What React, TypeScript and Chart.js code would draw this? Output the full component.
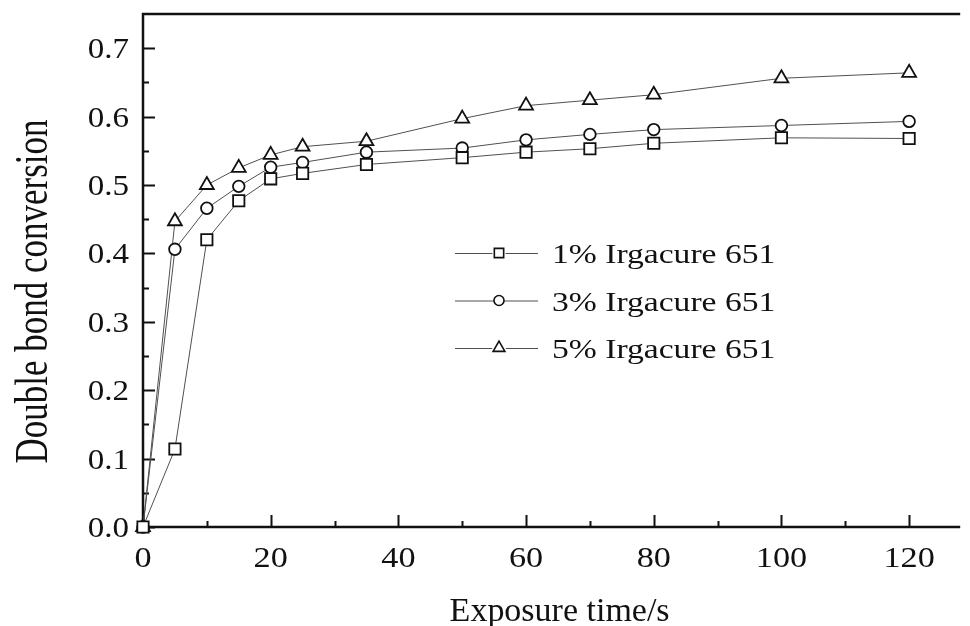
import React, { useEffect, useRef } from 'react';
import { Chart, registerables } from 'chart.js';
import { drawPoint } from 'chart.js/helpers';

Chart.register(...registerables);

// Exposure time (s) and double bond conversion for each photoinitiator level
const exposureTimes = [0, 5, 10, 15, 20, 25, 35, 50, 60, 70, 80, 100, 120];
const conversion1 = [0, 0.114, 0.42, 0.477, 0.509, 0.517, 0.53, 0.54, 0.548, 0.553, 0.561, 0.569, 0.568];
const conversion3 = [0, 0.406, 0.466, 0.498, 0.526, 0.533, 0.548, 0.554, 0.566, 0.574, 0.581, 0.587, 0.593];
const conversion5 = [0, 0.447, 0.5, 0.525, 0.544, 0.556, 0.564, 0.597, 0.616, 0.624, 0.632, 0.656, 0.664];

const seriesLabels = ['1% Irgacure 651', '3% Irgacure 651', '5% Irgacure 651'];
const seriesMarkers = ['rect', 'circle', 'triangle'] as const;

const xTickValues = [0, 20, 40, 60, 80, 100, 120];
const yTickValues = [0, 0.1, 0.2, 0.3, 0.4, 0.5, 0.6, 0.7];
const xTitle = 'Exposure time/s';
const yTitle = 'Double bond conversion';

const INK = '#111111';
const LINE = '#505050';
const SERIF = '"Liberation Serif", "Times New Roman", serif';

const markerRadius: Record<string, number> = { rect: 8, circle: 5.8, triangle: 8 };
const legendRadius: Record<string, number> = { rect: 6.6, circle: 5, triangle: 6.8 };

// text drawn with a horizontal stretch factor
function wideText(
  ctx: CanvasRenderingContext2D,
  text: string,
  x: number,
  y: number,
  sx: number,
  align: CanvasTextAlign,
) {
  ctx.save();
  ctx.translate(x, y);
  ctx.scale(sx, 1);
  ctx.textAlign = align;
  ctx.textBaseline = 'alphabetic';
  ctx.fillText(text, 0, 0);
  ctx.restore();
}

const midpoints = (vals: number[], step: number, max: number) => {
  const out: number[] = [];
  vals.forEach((v) => {
    const m = v + step / 2;
    if (m < max - 1e-9) out.push(m);
  });
  return out;
};

const framePlugin = {
  id: 'frame',
  beforeDatasetsDraw(chart: any) {
    const { ctx, chartArea: a, scales } = chart;
    const xs = scales.x;
    const ys = scales.y;
    ctx.save();
    ctx.strokeStyle = INK;
    ctx.lineCap = 'butt';
    ctx.lineWidth = 2.5;
    ctx.beginPath();
    ctx.moveTo(a.left, a.top);
    ctx.lineTo(a.right, a.top);
    ctx.moveTo(a.left, a.top - 1.25);
    ctx.lineTo(a.left, a.bottom + 1.25);
    ctx.moveTo(a.left - 1.25, a.bottom);
    ctx.lineTo(a.right, a.bottom);
    ctx.stroke();

    // inward ticks
    ctx.lineWidth = 2;
    ctx.beginPath();
    xTickValues.forEach((v) => {
      const px = Math.round(xs.getPixelForValue(v)) + 0.5;
      ctx.moveTo(px, a.bottom);
      ctx.lineTo(px, a.bottom - 12);
    });
    midpoints(xTickValues, 20, xs.max).forEach((v) => {
      const px = Math.round(xs.getPixelForValue(v)) + 0.5;
      ctx.moveTo(px, a.bottom);
      ctx.lineTo(px, a.bottom - 6);
    });
    yTickValues.forEach((v) => {
      const py = Math.round(ys.getPixelForValue(v)) + 0.5;
      ctx.moveTo(a.left, py);
      ctx.lineTo(a.left + 12, py);
    });
    midpoints(yTickValues, 0.1, ys.max).forEach((v) => {
      const py = Math.round(ys.getPixelForValue(v)) + 0.5;
      ctx.moveTo(a.left, py);
      ctx.lineTo(a.left + 6, py);
    });
    ctx.stroke();
    ctx.restore();
  },
  afterDraw(chart: any) {
    const { ctx, chartArea: a, scales } = chart;
    const xs = scales.x;
    const ys = scales.y;
    ctx.save();
    ctx.fillStyle = INK;

    // tick labels
    ctx.font = `29px ${SERIF}`;
    xTickValues.forEach((v) => {
      wideText(ctx, String(v), xs.getPixelForValue(v), a.bottom + 40, 1.18, 'center');
    });
    yTickValues.forEach((v) => {
      wideText(ctx, v.toFixed(1), a.left - 14, ys.getPixelForValue(v) + 10, 1.14, 'right');
    });

    // axis titles
    ctx.font = `33px ${SERIF}`;
    wideText(ctx, xTitle, (a.left + a.right) / 2 + 8, a.bottom + 94, 1.03, 'center');

    ctx.font = `35px ${SERIF}`;
    ctx.save();
    ctx.translate(47, (a.top + a.bottom) / 2 + 21);
    ctx.rotate(-Math.PI / 2);
    ctx.scale(1, 1.3);
    ctx.textAlign = 'center';
    ctx.textBaseline = 'alphabetic';
    ctx.fillText(yTitle, 0, 0);
    ctx.restore();

    // legend: line - marker - line, then label
    const lx = a.left + 312;
    const mx = a.left + 356;
    const rx = a.left + 395;
    const tx = a.left + 409;
    chart.data.datasets.forEach((ds: any, i: number) => {
      const y = a.top + 239 + i * 47.5;
      const style = seriesMarkers[i];
      const r = legendRadius[style];
      ctx.strokeStyle = LINE;
      ctx.lineWidth = 1;
      ctx.beginPath();
      ctx.moveTo(lx, y + 0.5);
      ctx.lineTo(mx - r, y + 0.5);
      ctx.moveTo(mx + r, y + 0.5);
      ctx.lineTo(rx, y + 0.5);
      ctx.stroke();
      ctx.fillStyle = '#ffffff';
      ctx.strokeStyle = INK;
      ctx.lineWidth = 1.6;
      drawPoint(ctx, { pointStyle: style, radius: r, rotation: 0, borderWidth: 1.6 }, mx, y);
      ctx.fillStyle = INK;
      ctx.font = `28px ${SERIF}`;
      wideText(ctx, ds.label, tx, y + 10, 1.2, 'left');
    });
    ctx.restore();
  },
};

const makeSeries = (label: string, values: number[], style: string) => ({
  label,
  data: exposureTimes.map((t, i) => ({ x: t, y: values[i] })),
  borderColor: LINE,
  borderWidth: 1,
  pointStyle: style,
  pointRadius: markerRadius[style],
  pointHoverRadius: markerRadius[style],
  pointBorderWidth: 1.8,
  pointBorderColor: INK,
  pointBackgroundColor: '#ffffff',
  tension: 0,
  clip: false as const,
});

export default function App() {
  const canvasRef = useRef<HTMLCanvasElement | null>(null);

  useEffect(() => {
    const canvas = canvasRef.current;
    if (!canvas) return;
    const chart = new Chart(canvas, {
      type: 'line',
      data: {
        datasets: [
          makeSeries(seriesLabels[0], conversion1, seriesMarkers[0]),
          makeSeries(seriesLabels[1], conversion3, seriesMarkers[1]),
          makeSeries(seriesLabels[2], conversion5, seriesMarkers[2]),
        ] as any,
      },
      options: {
        responsive: false,
        animation: false,
        events: [],
        layout: { padding: { top: 14, right: 0, left: 0, bottom: 0 } },
        plugins: {
          legend: { display: false },
          tooltip: { enabled: false },
        },
        scales: {
          x: {
            type: 'linear',
            min: 0,
            max: 128,
            grid: { display: false },
            border: { display: false },
            ticks: { display: false, includeBounds: false },
            afterBuildTicks: (s: any) => {
              s.ticks = xTickValues.map((value) => ({ value }));
            },
            afterFit: (s: any) => {
              s.height = 99;
            },
          },
          y: {
            type: 'linear',
            min: 0,
            max: 0.75,
            grid: { display: false },
            border: { display: false },
            ticks: { display: false, includeBounds: false },
            afterBuildTicks: (s: any) => {
              s.ticks = yTickValues.map((value) => ({ value }));
            },
            afterFit: (s: any) => {
              s.width = 143;
            },
          },
        },
      } as any,
      plugins: [framePlugin],
    });
    return () => chart.destroy();
  }, []);

  return (
    <div style={{ position: 'absolute', left: 0, top: 0, width: 970, height: 626, background: '#fff' }}>
      <canvas ref={canvasRef} width={970} height={626} />
    </div>
  );
}
